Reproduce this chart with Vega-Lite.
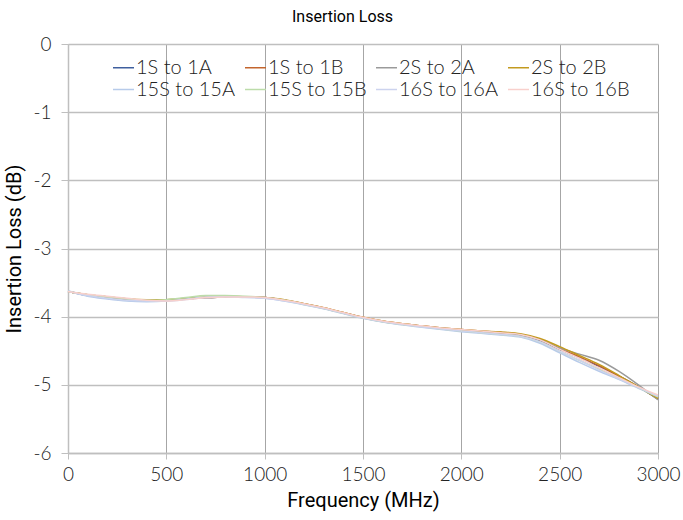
{
  "$schema": "https://vega.github.io/schema/vega-lite/v6.json",
  "width": 590,
  "height": 409,
  "autosize": "none",
  "padding": {"left": 68, "top": 44, "right": 25, "bottom": 67},
  "background": "white",
  "title": {"text": "Insertion Loss", "fontSize": 16, "font": "Roboto", "fontWeight": 400, "color": "#000000", "offset": 10, "frame": "bounds", "anchor": "middle"},
  "config": {
    "view": {"stroke": null},
    "font": "Lato",
    "axis": {"labelFont": "Lato", "labelFontWeight": 300, "labelFontSize": 19, "labelColor": "#222222", "titleFont": "Roboto", "titleFontWeight": 400, "titleFontSize": 20, "titleColor": "#000000"}
  },
  "data": {"values": [
    {"f": 0, "1S to 1A": -3.63, "1S to 1B": -3.63, "2S to 2A": -3.63, "2S to 2B": -3.63, "15S to 15A": -3.62, "15S to 15B": -3.63, "16S to 16A": -3.63, "16S to 16B": -3.63},
    {"f": 100, "1S to 1A": -3.69, "1S to 1B": -3.68, "2S to 2A": -3.68, "2S to 2B": -3.68, "15S to 15A": -3.70, "15S to 15B": -3.68, "16S to 16A": -3.69, "16S to 16B": -3.67},
    {"f": 200, "1S to 1A": -3.73, "1S to 1B": -3.71, "2S to 2A": -3.72, "2S to 2B": -3.71, "15S to 15A": -3.74, "15S to 15B": -3.71, "16S to 16A": -3.73, "16S to 16B": -3.70},
    {"f": 300, "1S to 1A": -3.76, "1S to 1B": -3.74, "2S to 2A": -3.75, "2S to 2B": -3.74, "15S to 15A": -3.77, "15S to 15B": -3.74, "16S to 16A": -3.76, "16S to 16B": -3.73},
    {"f": 400, "1S to 1A": -3.77, "1S to 1B": -3.76, "2S to 2A": -3.76, "2S to 2B": -3.75, "15S to 15A": -3.78, "15S to 15B": -3.76, "16S to 16A": -3.77, "16S to 16B": -3.76},
    {"f": 500, "1S to 1A": -3.76, "1S to 1B": -3.76, "2S to 2A": -3.76, "2S to 2B": -3.75, "15S to 15A": -3.77, "15S to 15B": -3.75, "16S to 16A": -3.77, "16S to 16B": -3.77},
    {"f": 600, "1S to 1A": -3.74, "1S to 1B": -3.74, "2S to 2A": -3.74, "2S to 2B": -3.73, "15S to 15A": -3.74, "15S to 15B": -3.72, "16S to 16A": -3.75, "16S to 16B": -3.75},
    {"f": 700, "1S to 1A": -3.72, "1S to 1B": -3.72, "2S to 2A": -3.72, "2S to 2B": -3.71, "15S to 15A": -3.71, "15S to 15B": -3.69, "16S to 16A": -3.72, "16S to 16B": -3.72},
    {"f": 800, "1S to 1A": -3.71, "1S to 1B": -3.71, "2S to 2A": -3.71, "2S to 2B": -3.70, "15S to 15A": -3.70, "15S to 15B": -3.69, "16S to 16A": -3.71, "16S to 16B": -3.71},
    {"f": 900, "1S to 1A": -3.71, "1S to 1B": -3.71, "2S to 2A": -3.71, "2S to 2B": -3.71, "15S to 15A": -3.71, "15S to 15B": -3.70, "16S to 16A": -3.72, "16S to 16B": -3.71},
    {"f": 1000, "1S to 1A": -3.72, "1S to 1B": -3.72, "2S to 2A": -3.72, "2S to 2B": -3.72, "15S to 15A": -3.73, "15S to 15B": -3.72, "16S to 16A": -3.73, "16S to 16B": -3.72},
    {"f": 1100, "1S to 1A": -3.76, "1S to 1B": -3.76, "2S to 2A": -3.76, "2S to 2B": -3.75, "15S to 15A": -3.77, "15S to 15B": -3.76, "16S to 16A": -3.77, "16S to 16B": -3.76},
    {"f": 1200, "1S to 1A": -3.815, "1S to 1B": -3.81, "2S to 2A": -3.815, "2S to 2B": -3.81, "15S to 15A": -3.825, "15S to 15B": -3.82, "16S to 16A": -3.82, "16S to 16B": -3.81},
    {"f": 1300, "1S to 1A": -3.875, "1S to 1B": -3.87, "2S to 2A": -3.875, "2S to 2B": -3.87, "15S to 15A": -3.885, "15S to 15B": -3.88, "16S to 16A": -3.88, "16S to 16B": -3.87},
    {"f": 1400, "1S to 1A": -3.945, "1S to 1B": -3.94, "2S to 2A": -3.945, "2S to 2B": -3.94, "15S to 15A": -3.955, "15S to 15B": -3.95, "16S to 16A": -3.95, "16S to 16B": -3.94},
    {"f": 1500, "1S to 1A": -4.015, "1S to 1B": -4.01, "2S to 2A": -4.015, "2S to 2B": -4.01, "15S to 15A": -4.025, "15S to 15B": -4.02, "16S to 16A": -4.02, "16S to 16B": -4.01},
    {"f": 1600, "1S to 1A": -4.07, "1S to 1B": -4.065, "2S to 2A": -4.07, "2S to 2B": -4.065, "15S to 15A": -4.08, "15S to 15B": -4.075, "16S to 16A": -4.075, "16S to 16B": -4.065},
    {"f": 1700, "1S to 1A": -4.11, "1S to 1B": -4.105, "2S to 2A": -4.11, "2S to 2B": -4.105, "15S to 15A": -4.12, "15S to 15B": -4.115, "16S to 16A": -4.115, "16S to 16B": -4.105},
    {"f": 1800, "1S to 1A": -4.14, "1S to 1B": -4.135, "2S to 2A": -4.14, "2S to 2B": -4.135, "15S to 15A": -4.155, "15S to 15B": -4.145, "16S to 16A": -4.15, "16S to 16B": -4.135},
    {"f": 1900, "1S to 1A": -4.17, "1S to 1B": -4.165, "2S to 2A": -4.17, "2S to 2B": -4.165, "15S to 15A": -4.19, "15S to 15B": -4.18, "16S to 16A": -4.18, "16S to 16B": -4.165},
    {"f": 2000, "1S to 1A": -4.2, "1S to 1B": -4.19, "2S to 2A": -4.2, "2S to 2B": -4.19, "15S to 15A": -4.22, "15S to 15B": -4.21, "16S to 16A": -4.21, "16S to 16B": -4.19},
    {"f": 2100, "1S to 1A": -4.22, "1S to 1B": -4.21, "2S to 2A": -4.22, "2S to 2B": -4.21, "15S to 15A": -4.245, "15S to 15B": -4.235, "16S to 16A": -4.235, "16S to 16B": -4.21},
    {"f": 2200, "1S to 1A": -4.24, "1S to 1B": -4.23, "2S to 2A": -4.24, "2S to 2B": -4.225, "15S to 15A": -4.27, "15S to 15B": -4.26, "16S to 16A": -4.26, "16S to 16B": -4.235},
    {"f": 2300, "1S to 1A": -4.27, "1S to 1B": -4.26, "2S to 2A": -4.27, "2S to 2B": -4.25, "15S to 15A": -4.3, "15S to 15B": -4.29, "16S to 16A": -4.29, "16S to 16B": -4.26},
    {"f": 2400, "1S to 1A": -4.35, "1S to 1B": -4.34, "2S to 2A": -4.34, "2S to 2B": -4.32, "15S to 15A": -4.39, "15S to 15B": -4.37, "16S to 16A": -4.37, "16S to 16B": -4.34},
    {"f": 2500, "1S to 1A": -4.48, "1S to 1B": -4.47, "2S to 2A": -4.46, "2S to 2B": -4.44, "15S to 15A": -4.53, "15S to 15B": -4.51, "16S to 16A": -4.51, "16S to 16B": -4.48},
    {"f": 2600, "1S to 1A": -4.6, "1S to 1B": -4.59, "2S to 2A": -4.55, "2S to 2B": -4.57, "15S to 15A": -4.67, "15S to 15B": -4.64, "16S to 16A": -4.64, "16S to 16B": -4.61},
    {"f": 2700, "1S to 1A": -4.73, "1S to 1B": -4.72, "2S to 2A": -4.64, "2S to 2B": -4.7, "15S to 15A": -4.8, "15S to 15B": -4.77, "16S to 16A": -4.78, "16S to 16B": -4.75},
    {"f": 2800, "1S to 1A": -4.87, "1S to 1B": -4.87, "2S to 2A": -4.8, "2S to 2B": -4.86, "15S to 15A": -4.92, "15S to 15B": -4.9, "16S to 16A": -4.91, "16S to 16B": -4.89},
    {"f": 2900, "1S to 1A": -5.03, "1S to 1B": -5.03, "2S to 2A": -5.0, "2S to 2B": -5.03, "15S to 15A": -5.05, "15S to 15B": -5.04, "16S to 16A": -5.04, "16S to 16B": -5.03},
    {"f": 3000, "1S to 1A": -5.21, "1S to 1B": -5.2, "2S to 2A": -5.22, "2S to 2B": -5.2, "15S to 15A": -5.17, "15S to 15B": -5.18, "16S to 16A": -5.17, "16S to 16B": -5.15}
  ]},
  "transform": [
    {"fold": ["1S to 1A", "1S to 1B", "2S to 2A", "2S to 2B", "15S to 15A", "15S to 15B", "16S to 16A", "16S to 16B"], "as": ["series", "loss"]}
  ],
  "mark": {"type": "line", "interpolate": "monotone", "strokeWidth": 1.5},
  "encoding": {
    "x": {
      "field": "f", "type": "quantitative", "title": "Frequency (MHz)",
      "scale": {"domain": [0, 3000], "nice": false},
      "axis": {"values": [0, 500, 1000, 1500, 2000, 2500, 3000], "grid": true, "gridColor": "#a6a6a6", "gridWidth": 1, "domainColor": "#bfbfbf", "domainWidth": 1.5, "tickColor": "#bfbfbf", "tickSize": 6, "labelPadding": 6, "titlePadding": 6, "labelFlush": false, "labelExpr": "datum.value + ''"}
    },
    "y": {
      "field": "loss", "type": "quantitative", "title": "Insertion Loss (dB)",
      "scale": {"domain": [-6, 0], "nice": false},
      "axis": {"values": [-6, -5, -4, -3, -2, -1, 0], "grid": true, "gridColor": "#bfbfbf", "gridWidth": 1.5, "domainColor": "#bfbfbf", "domainWidth": 1.5, "tickColor": "#bfbfbf", "tickSize": 7, "labelPadding": 10, "titlePadding": 8, "labelExpr": "datum.value + ''"}
    },
    "color": {
      "field": "series", "type": "nominal",
      "sort": ["1S to 1A", "1S to 1B", "2S to 2A", "2S to 2B", "15S to 15A", "15S to 15B", "16S to 16A", "16S to 16B"],
      "scale": {
        "domain": ["1S to 1A", "1S to 1B", "2S to 2A", "2S to 2B", "15S to 15A", "15S to 15B", "16S to 16A", "16S to 16B"],
        "range": ["#3f5f9e", "#c3652d", "#9a9a9a", "#c39a1f", "#b7cbea", "#bcdcaa", "#ccd3ee", "#f8d0cc"]
      },
      "legend": {
        "title": null, "orient": "none", "legendX": 44, "legendY": 12, "columns": 4, "direction": "horizontal",
        "symbolType": "stroke", "symbolSize": 441, "symbolStrokeWidth": 1.5,
        "labelFont": "Lato", "labelFontWeight": 300, "labelFontSize": 20, "labelColor": "#222222", "labelOffset": 1,
        "rowPadding": -2, "columnPadding": 6, "labelLimit": 200
      }
    }
  }
}
